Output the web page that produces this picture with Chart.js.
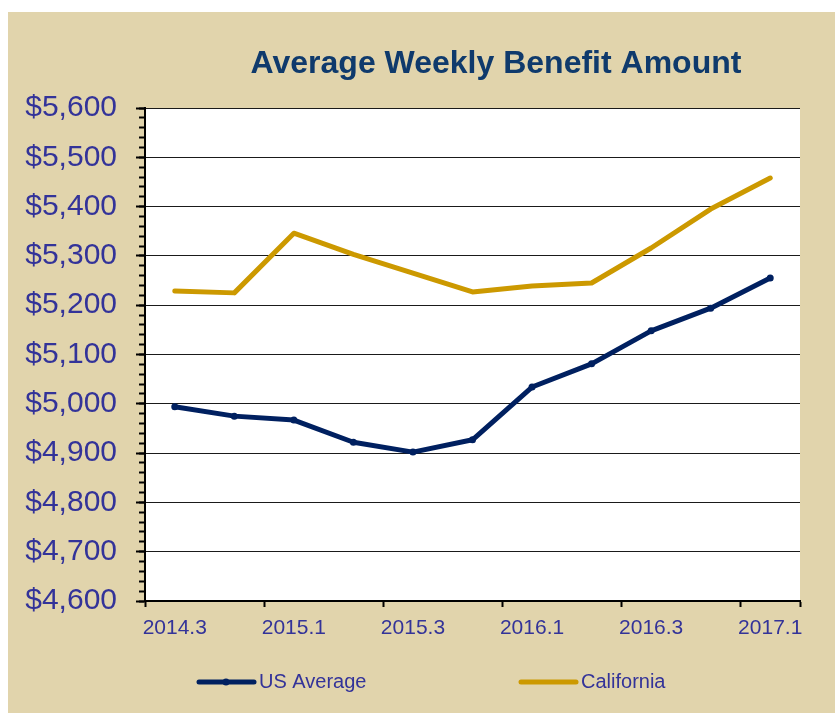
<!DOCTYPE html>
<html>
<head>
<meta charset="utf-8">
<title>Average Weekly Benefit Amount</title>
<script src="https://cdn.jsdelivr.net/npm/chart.js@4/dist/chart.umd.min.js"></script>
<style>
    html, body { margin: 0; padding: 0; background: #fff; }
    #frame {
        position: absolute;
        left: 8px; top: 12px;
        width: 827px; height: 701px;
        background: #e1d4ac;
    }
    #frame canvas { display: block; }
</style>
</head>
<body>
<div id="frame"><canvas id="benefitChart" width="827" height="701"></canvas></div>
<script>
// Quarters on the x axis (only every other one gets a label)
const quarters = ['2014.3', '2014.4', '2015.1', '2015.2', '2015.3', '2015.4',
                  '2016.1', '2016.2', '2016.3', '2016.4', '2017.1'];

// Average weekly benefit amount, dollars
const usAverage  = [4994, 4975, 4967, 4922, 4902, 4927, 5034, 5081, 5148, 5194, 5255];
const california = [5229, 5225, 5346, 5303, 5265, 5227, 5239, 5245, 5316, 5395, 5458];

const yMin = 4600;
const yMax = 5600;

const labelColor = '#333399';
const fontFamily = '"Liberation Sans", Arial, sans-serif';

const money = v => '$' + Number(v).toLocaleString('en-US');

// White plot area on the tan frame
const plotBackground = {
    id: 'plotBackground',
    beforeDraw(chart) {
        const { ctx, chartArea: a } = chart;
        ctx.save();
        ctx.fillStyle = '#ffffff';
        ctx.fillRect(a.left, a.top, a.right - a.left, a.bottom - a.top);
        ctx.restore();
    }
};

// Title and legend are drawn by hand so they sit where the layout needs them
const titlePlugin = {
    id: 'titleText',
    afterDraw(chart) {
        const ctx = chart.ctx;
        ctx.save();
        ctx.font = 'bold 32px ' + fontFamily;
        ctx.fillStyle = '#0f3a6c';
        ctx.textAlign = 'center';
        ctx.textBaseline = 'alphabetic';
        ctx.fillText('Average Weekly Benefit Amount', 488, 61);
        ctx.restore();
    }
};

const legendPlugin = {
    id: 'lineLegend',
    afterDraw(chart) {
        const ctx = chart.ctx;
        const starts = [191, 513];
        const y = 670;
        ctx.save();
        ctx.font = '20px ' + fontFamily;
        ctx.textBaseline = 'middle';
        chart.data.datasets.forEach((ds, i) => {
            const x = starts[i];
            ctx.strokeStyle = ds.borderColor;
            ctx.lineWidth = 5;
            ctx.lineCap = 'round';
            ctx.beginPath();
            ctx.moveTo(x, y);
            ctx.lineTo(x + 55, y);
            ctx.stroke();
            if (ds.pointRadius > 0) {
                ctx.fillStyle = ds.borderColor;
                ctx.beginPath();
                ctx.arc(x + 27, y, ds.pointRadius, 0, Math.PI * 2);
                ctx.fill();
            }
            ctx.fillStyle = labelColor;
            ctx.fillText(ds.label, x + 60, y);
        });
        ctx.restore();
    }
};

const ctx = document.getElementById('benefitChart').getContext('2d');
const chart = new Chart(ctx, {
    type: 'line',
    data: {
        labels: quarters,
        datasets: [{
            label: 'US Average',
            data: usAverage,
            borderColor: '#002060',
            backgroundColor: '#002060',
            borderWidth: 5,
            pointRadius: 3.5,
            pointHoverRadius: 3.5,
            pointBorderWidth: 0,
            borderCapStyle: 'round',
            borderJoinStyle: 'round',
            tension: 0,
            yAxisID: 'y'
        }, {
            label: 'California',
            data: california,
            borderColor: '#cc9900',
            backgroundColor: '#cc9900',
            borderWidth: 5,
            pointRadius: 0,
            pointHoverRadius: 0,
            borderCapStyle: 'round',
            borderJoinStyle: 'round',
            tension: 0,
            yAxisID: 'y'
        }]
    },
    options: {
        responsive: false,
        animation: false,
        layout: { padding: { top: 96, right: 35, bottom: 52, left: 0 } },
        plugins: {
            legend: { display: false },
            title: { display: false },
            tooltip: { enabled: false }
        },
        scales: {
            x: {
                type: 'category',
                offset: true,
                afterFit: scale => { scale.height = 60; },
                border: { display: true, color: '#000', width: 2 },
                grid: {
                    offset: true,
                    drawOnChartArea: false,
                    tickLength: 6,
                    tickWidth: 2,
                    tickColor: c => (c.index % 2 ? 'rgba(0,0,0,0)' : '#000')
                },
                ticks: {
                    autoSkip: false,
                    maxRotation: 0,
                    padding: 9,
                    color: labelColor,
                    font: { family: fontFamily, size: 21 },
                    callback: function (value, index) {
                        return index % 2 === 0 ? this.getLabelForValue(value) : '';
                    }
                }
            },
            y: {
                position: 'left',
                weight: 1,
                min: yMin,
                max: yMax,
                afterFit: scale => { scale.width = 137; },
                border: { display: true, color: '#000', width: 2 },
                grid: {
                    color: '#1a1a1a',
                    lineWidth: 1,
                    tickLength: 9,
                    tickWidth: 2,
                    tickColor: '#000'
                },
                ticks: {
                    stepSize: 100,
                    padding: 19,
                    color: labelColor,
                    font: { family: fontFamily, size: 30 },
                    callback: v => money(v)
                }
            },
            yMinor: {
                position: 'left',
                weight: 0,
                min: yMin,
                max: yMax,
                afterFit: scale => { scale.width = 0; },
                border: { display: false },
                grid: {
                    drawOnChartArea: false,
                    tickLength: 6,
                    tickWidth: 2,
                    tickColor: '#000'
                },
                ticks: { display: false, stepSize: 20 }
            }
        }
    },
    plugins: [plotBackground, titlePlugin, legendPlugin]
});
</script>
</body>
</html>
